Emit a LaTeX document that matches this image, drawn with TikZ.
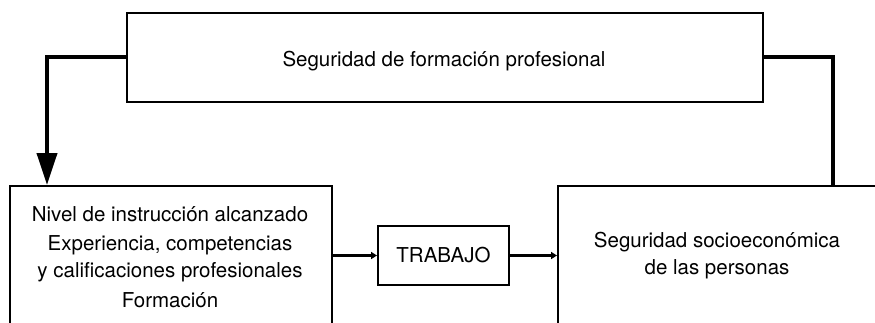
\documentclass[tikz,border=0pt]{standalone}
\usepackage{fontspec}
\setmainfont{TeX Gyre Heros}
\usetikzlibrary{arrows.meta}
\begin{document}
\begin{tikzpicture}[x=1pt,y=-1pt,
  box/.style={draw,line width=2pt},
  txt/.style={font=\fontsize{20.5}{27}\selectfont,align=center,inner sep=0pt},
  thick link/.style={line width=4pt},
  flow/.style={line width=2.6pt,-{Triangle[width=7pt,length=6pt]}}]
\useasboundingbox (0,0) rectangle (875,322);
\clip (0,0) rectangle (875,322);
% boxes
\node[box,anchor=north west,minimum width=636pt,minimum height=89pt,inner sep=0pt] (top) at (126,12) {};
\node[txt,anchor=base] (toptxt) at (444,66) {Seguridad de formación profesional};
\node[box,anchor=north west,minimum width=322pt,minimum height=200pt,inner sep=0pt] (left) at (9,185) {};
\node[box,anchor=north west,minimum width=400pt,minimum height=200pt,inner sep=0pt] (right) at (557,185) {};
\node[box,anchor=north west,minimum width=131pt,minimum height=59pt,inner sep=0pt] (trab) at (377,225) {};
\node[txt] (trabtxt) at (trab.center) {TRABAJO};
% texts in the lower boxes
\node[txt,anchor=base] (l1) at (170,221) {Nivel de instrucción alcanzado};
\node[txt,anchor=base] (l2) at (170,250) {Experiencia, competencias};
\node[txt,anchor=base] (l3) at (170,277) {y calificaciones profesionales};
\node[txt,anchor=base] (l4) at (170,307) {Formación};
\node[txt,anchor=base] (r1) at (717,247) {Seguridad socioeconómica};
\node[txt,anchor=base] (r2) at (717,274) {de las personas};
% connectors
\coordinate (lc) at (47,57);
\coordinate (rc) at (833,57);
\draw[thick link,-{Triangle[width=20pt,length=32pt]}] (top.west |- lc) -- (lc) -- (lc |- left.north);
\draw[thick link] (top.east |- rc) -- (rc) -- (rc |- right.north);
\draw[flow] (left.east |- trab.center) -- (trab.west);
\draw[flow] (trab.east) -- (right.west |- trab.center);
\end{tikzpicture}
\end{document}
